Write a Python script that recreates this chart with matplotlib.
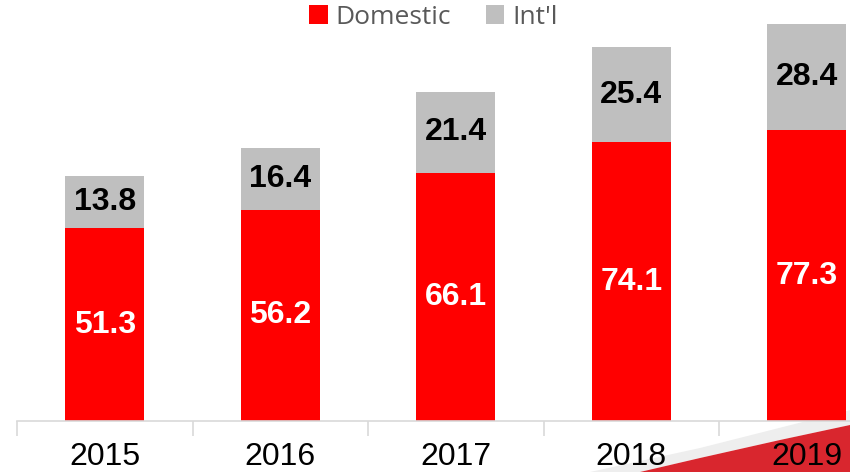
import numpy as np
import matplotlib.pyplot as plt
from matplotlib.patches import Polygon

years = ['2015', '2016', '2017', '2018', '2019']
domestic = [51.3, 56.2, 66.1, 74.1, 77.3]
intl = [13.8, 16.4, 21.4, 25.4, 28.4]

red = '#ff0000'
grey = '#bfbfbf'

fig = plt.figure(figsize=(8.5, 4.72), dpi=100)

# decorative red swoosh in the bottom-right corner
shade = Polygon([(590 / 850, 0), (700 / 850, 24 / 472), (1.0, 62 / 472),
                 (1.0, 47 / 472), (780 / 850, 32 / 472), (700 / 850, 14 / 472),
                 (640 / 850, 0)],
                closed=True, transform=fig.transFigure, facecolor='#eeeeee',
                edgecolor='none', zorder=0)
fig.patches.append(shade)
swoosh = Polygon([(640 / 850, 0), (700 / 850, 14 / 472), (780 / 850, 32 / 472),
                  (1.0, 47 / 472), (1.0, 0)],
                 closed=True, transform=fig.transFigure, facecolor='#d9262e',
                 edgecolor='none', zorder=0)
fig.patches.append(swoosh)

ax = fig.add_axes([17 / 850, 51 / 472, 833 / 850, 421 / 472])
ax.set_zorder(2)
ax.patch.set_alpha(0)

x = np.arange(len(years))
w = 0.45
ax.bar(x, domestic, w, color=red, label='Domestic', zorder=2)
ax.bar(x, intl, w, bottom=domestic, color=grey, label="Int'l", zorder=2)

bold = dict(fontsize=23, fontweight='bold', ha='center', va='center',
            family='Liberation Sans')
for i in range(len(years)):
    ax.text(x[i], domestic[i] / 2, f'{domestic[i]:.1f}', color='white', **bold)
    ax.text(x[i], domestic[i] + intl[i] / 2, f'{intl[i]:.1f}', color='black', **bold)

for s in ['top', 'right', 'left']:
    ax.spines[s].set_visible(False)
ax.spines['bottom'].set_color('#d9d9d9')
ax.spines['bottom'].set_linewidth(1.2)
ax.set_yticks([])

# separators between categories instead of centred ticks
ax.set_xticks(np.arange(-0.5, 4.6, 1.0), minor=True)
ax.tick_params(axis='x', which='minor', length=11, width=1.2, color='#d9d9d9')
ax.set_xticks(x)
ax.set_xticklabels(years, fontsize=23,
                   family=['Liberation Sans Narrow', 'Liberation Sans'])
ax.tick_params(axis='x', which='major', length=0, pad=15)

ax.set_xlim(-0.5, 4.246)
ax.set_ylim(0, 112)

ax.legend(loc='upper center', bbox_to_anchor=(0.5, 1.045), ncol=2, frameon=False,
          handlelength=0.7, handleheight=0.7, handletextpad=0.3,
          columnspacing=1.3, labelcolor='#595959',
          prop={'family': 'Open Sans', 'size': 19})

fig.savefig('out.png', dpi=100)
